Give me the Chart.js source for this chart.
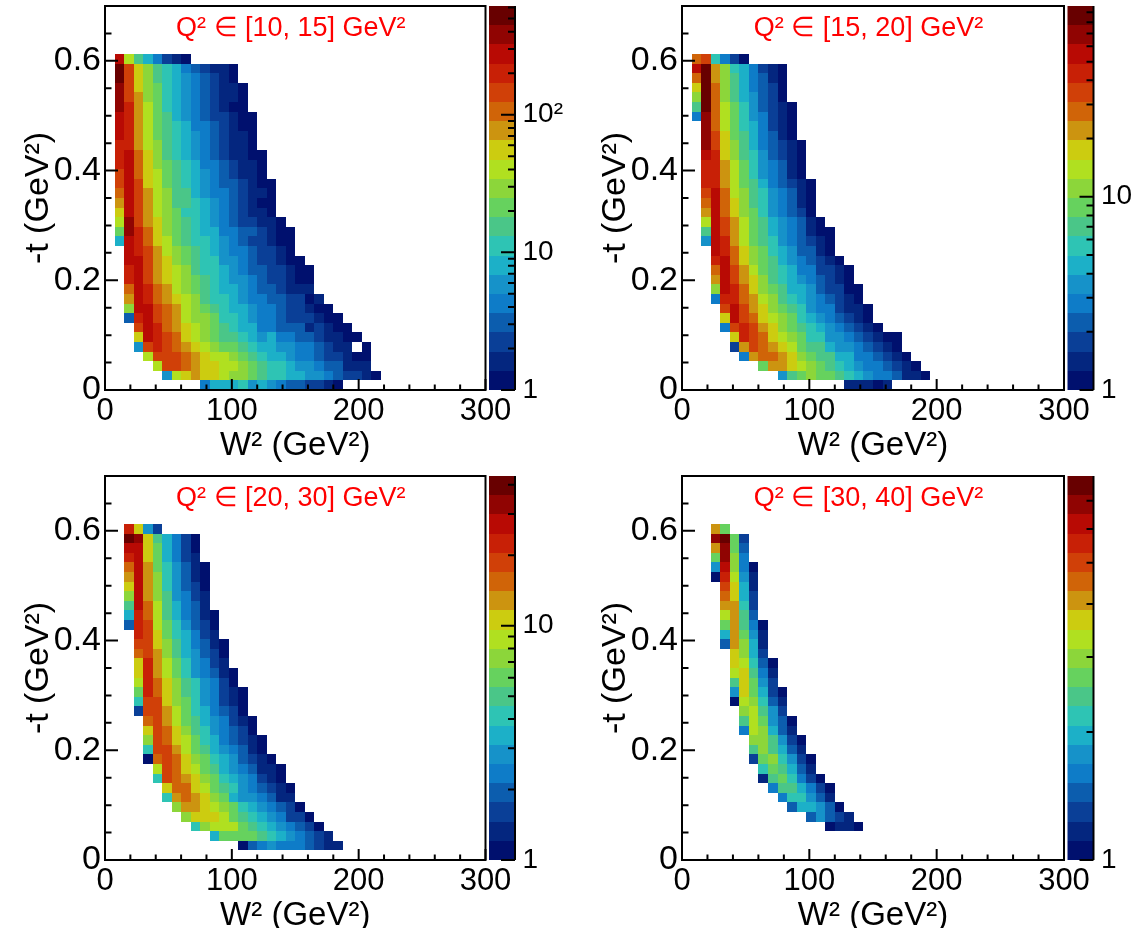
<!DOCTYPE html>
<html>
<head>
<meta charset="utf-8">
<style>
  html, body { margin: 0; background: #fff; }
  canvas { position: absolute; }
</style>
<script src="https://cdn.jsdelivr.net/npm/chart.js@4"></script>
</head>
<body>
<canvas id="c1"></canvas>
<canvas id="c2"></canvas>
<canvas id="c3"></canvas>
<canvas id="c4"></canvas>
<script>
// histogram binning, GeV^2
const wBinWidth = 7.5
const tBinWidth = 0.0175

const wTicks = [0, 20, 40, 60, 80, 100, 120, 140, 160, 180, 200, 220, 240, 260, 280, 300]
const wLabelled = [0, 100, 200, 300]
const tTicks = [0, 0.05, 0.1, 0.15, 0.2, 0.25, 0.3, 0.35, 0.4, 0.45, 0.5, 0.55, 0.6, 0.65]
const tLabelled = [0, 0.2, 0.4, 0.6]
const zLabels = { 1: '1', 10: '10', 100: '10²' }

const bandColors = ['#00106e', '#04267f', '#0a3f97', '#0c5dae', '#0e7cc8', '#1692c9', '#1cb0c8', '#2ec4b4',
  '#4ac688', '#66d25e', '#8cd63a', '#b0e020', '#cccc10', '#cc9410', '#d06408', '#d04008',
  '#c82006', '#b80a04', '#900402', '#680000']

// each row is one -t bin, lowest first; wStart is the low W^2 edge of the row's first cell
const wStart10 = [75, 45, 37.5, 30, 22.5, 22.5, 22.5, 15, 15, 15, 15, 15, 15, 15, 15,
  7.5, 7.5, 7.5, 7.5, 7.5, 7.5, 7.5, 7.5, 7.5, 7.5, 7.5, 7.5, 7.5, 7.5, 7.5, 7.5, 7.5, 7.5, 7.5, 7.5]
const counts10 = [
  [4.2,8,8,8,11,5.8,8,5.8,4.2,3.1,3.1,2.2,2.2,1.6,1.2],
  [5.8,40,55,76,55,55,40,29,29,21,15,11,11,8,8,5.8,5.8,4.2,3.1,2.2,2.2,1.6,1.2],
  [40,145,145,105,76,55,55,40,40,29,21,15,11,11,8,5.8,5.8,4.2,3.1,3.1,1.6,1.6,1.6],
  [40,145,145,145,105,76,55,40,40,29,21,15,11,8,8,5.8,4.2,4.2,3.1,2.2,2.2,1.6,1.2,1.2],
  [5.8,145,200,145,105,76,55,40,29,21,21,15,11,8,8,5.8,5.8,4.2,4.2,3.1,2.2,1.6,1.6,null,1.2],
  [55,276,200,145,105,55,40,29,21,15,15,11,8,5.8,8,4.2,4.2,3.1,3.1,2.2,1.6,1.6,1.2,1.2],
  [145,276,200,105,76,55,40,29,21,15,11,8,8,4.2,4.2,3.1,3.1,3.1,1.6,2.2,1.6,1.2,1.2],
  [3.1,200,276,145,105,76,40,29,29,21,11,11,8,5.8,4.2,4.2,3.1,2.2,2.2,2.2,1.6,1.2,1.2],
  [29,276,276,145,105,76,40,29,21,15,11,8,8,5.8,4.2,4.2,3.1,2.2,2.2,1.6,1.2,1.2],
  [76,276,200,105,76,55,40,29,15,11,11,8,5.8,4.2,4.2,3.1,3.1,2.2,2.2,1.2,1.6],
  [105,276,200,105,76,40,29,21,15,11,8,8,5.8,4.2,3.1,3.1,2.2,1.6,1.6,1.6],
  [200,276,145,76,55,40,29,21,15,11,8,5.8,5.8,4.2,3.1,2.2,2.2,1.6,1.2,1.2],
  [200,276,145,76,55,40,29,15,11,11,8,5.8,4.2,3.1,3.1,2.2,2.2,1.6,1.2,1.2],
  [276,276,145,76,55,29,21,15,11,11,5.8,5.8,4.2,3.1,2.2,2.2,1.6,1.2,1.2],
  [276,200,145,76,40,29,21,15,11,8,5.8,4.2,4.2,3.1,2.2,2.2,1.6,1.2],
  [8,276,200,105,55,40,21,15,11,11,8,5.8,4.2,3.1,2.2,2.2,1.6,1.2,1.2],
  [21,381,200,105,55,29,21,15,11,8,8,4.2,4.2,3.1,3.1,2.2,1.6,1.2,1.2],
  [40,381,145,76,55,29,21,15,11,8,5.8,4.2,3.1,2.2,2.2,1.6,1.6,1.2],
  [55,276,145,76,40,29,21,11,11,8,5.8,4.2,3.1,2.2,1.6,1.6,1.2],
  [76,276,145,76,40,29,15,15,11,8,5.8,4.2,3.1,2.2,1.6,1.2,1.2],
  [105,276,145,76,40,29,15,15,8,5.8,4.2,4.2,3.1,2.2,1.6,1.6,1.2],
  [145,276,145,55,40,21,15,11,8,5.8,4.2,3.1,3.1,2.2,1.6,1.2,1.2],
  [145,276,105,55,40,21,15,11,8,5.8,4.2,3.1,2.2,1.6,1.6,1.2],
  [200,276,105,55,29,21,15,11,8,4.2,4.2,3.1,2.2,1.6,1.6,1.2],
  [200,276,105,55,29,15,11,8,5.8,4.2,3.1,2.2,1.6,1.6,1.2,1.2],
  [200,200,76,40,29,15,11,8,5.8,4.2,3.1,2.2,1.6,1.6,1.2],
  [276,200,76,40,21,15,11,8,5.8,4.2,3.1,2.2,1.6,1.6,1.2],
  [276,200,76,40,21,15,11,8,4.2,4.2,3.1,2.2,1.6,1.2,1.2],
  [276,200,76,40,21,15,8,5.8,4.2,3.1,2.2,2.2,1.6,1.2,1.2],
  [381,200,76,40,21,11,8,5.8,4.2,3.1,2.2,1.6,1.2,1.2],
  [381,145,76,29,21,11,8,5.8,4.2,3.1,2.2,1.6,1.6,1.2],
  [381,145,55,29,21,11,8,5.8,4.2,3.1,2.2,1.6,1.6,1.2],
  [525,145,55,29,15,11,8,5.8,4.2,3.1,2.2,1.6,1.2],
  [525,145,55,29,15,11,8,4.2,3.1,2.2,1.6,1.6,1.2],
  [276,40,15,8,4.2,2.2,1.6,1.2]
]

const wStart15 = [127.5, 75, 60, 45, 37.5, 37.5, 30, 30, 30, 22.5, 22.5, 22.5, 22.5, 22.5, 22.5,
  15, 15, 15, 15, 15, 15, 15, 15, 15, 15, 15, 15, 15, 7.5, 7.5, 7.5, 7.5, 7.5, 7.5, 7.5]
const counts15 = [
  [1.4,1.4,1.4,1.1,1.4],
  [3.5,7,8.8,11,8.8,8.8,7,5.6,4.4,3.5,2.8,2.8,2.2,1.4,1.4,1.1],
  [8.8,22,22,17.5,14,11,8.8,7,5.6,4.4,3.5,2.8,2.8,2.2,1.8,1.4,1.1],
  [2.8,22,28,28,22,17.5,11,8.8,7,7,4.4,4.4,2.8,2.8,2.2,1.8,1.4,1.1],
  [1.8,22,35,28,22,17.5,14,8.8,7,7,4.4,3.5,3.5,2.8,2.2,1.8,1.4,1.1],
  [17.5,44,35,28,17.5,14,11,8.8,5.6,5.6,3.5,3.5,2.8,2.2,1.8,1.4,1.1,1.1],
  [2.8,35,44,35,22,17.5,11,8.8,7,5.6,4.4,3.5,2.8,2.2,1.8,1.4,1.1],
  [17.5,55,35,28,17.5,14,11,8.8,5.6,4.4,3.5,2.8,2.2,1.8,1.4,1.1],
  [35,55,35,22,17.5,11,8.8,7,5.6,3.5,2.8,2.8,1.8,1.4,1.4,1.1],
  [2.8,44,44,28,22,14,11,7,5.6,4.4,3.5,2.8,2.2,1.8,1.4,1.1],
  [11,55,44,28,17.5,11,8.8,7,4.4,4.4,3.5,2.2,1.8,1.8,1.1,1.1],
  [22,55,35,22,17.5,11,7,5.6,4.4,3.5,2.8,2.2,1.8,1.4,1.1],
  [28,55,35,22,14,8.8,7,5.6,4.4,2.8,2.8,1.8,1.8,1.4,1.1],
  [44,55,28,17.5,11,8.8,7,4.4,3.5,2.8,2.2,1.8,1.4,1.1],
  [55,44,28,17.5,11,8.8,5.6,4.4,3.5,2.2,2.2,1.4,1.1],
  [3.5,55,44,22,14,8.8,7,5.6,3.5,2.8,2.2,1.8,1.4,1.1],
  [7,55,35,22,14,8.8,7,4.4,3.5,2.8,2.2,1.4,1.1,1.1],
  [14,55,35,22,14,8.8,7,4.4,3.5,2.8,2.2,1.4,1.1],
  [22,55,28,17.5,11,8.8,5.6,3.5,2.8,2.2,1.8,1.1],
  [28,55,28,17.5,11,7,5.6,3.5,2.8,2.2,1.4,1.1],
  [35,55,28,14,11,7,5.6,3.5,2.8,2.2,1.4,1.1],
  [44,44,22,14,8.8,7,4.4,2.8,2.2,1.8,1.4,1.1],
  [44,44,22,14,8.8,5.6,3.5,2.8,2.2,1.4,1.1],
  [44,44,22,14,8.8,5.6,3.5,2.8,2.2,1.4,1.1],
  [55,44,17.5,11,7,5.6,3.5,2.2,1.8,1.4,1.1],
  [69,35,17.5,11,7,4.4,2.8,2.2,1.8,1.4,1.1],
  [69,35,17.5,8.8,7,4.4,2.8,2.2,1.4,1.1],
  [69,28,14,8.8,5.6,4.4,2.8,1.8,1.4,1.1],
  [2.8,69,28,14,8.8,5.6,3.5,2.8,1.8,1.4,1.1],
  [7,87,28,14,8.8,5.6,3.5,2.2,1.8,1.4,1.1],
  [11,87,28,11,7,4.4,3.5,2.2,1.8,1.1],
  [17.5,87,28,11,7,4.4,2.8,2.2,1.8,1.1],
  [28,87,22,11,7,4.4,2.8,2.2,1.4,1.1],
  [55,87,22,11,5.6,4.4,2.8,1.8,1.4,1.1],
  [28,35,5.6,2.8,1.8,1.1]
]

const wStart20 = [0, 105, 82.5, 67.5, 60, 52.5, 45, 45, 37.5, 37.5, 30, 30, 30, 30, 30,
  22.5, 22.5, 22.5, 22.5, 22.5, 22.5, 22.5, 22.5, 22.5, 15, 15, 15, 15, 15, 15, 15, 15, 15, 15, 15]
const counts20 = [
  [],
  [1.1,1.9,2.3,2.8,2.3,2.3,2.3,1.9,1.6,1.3,1.3],
  [3.4,6,6,6,6,5,4.1,3.4,2.8,2.3,1.9,1.6,1.3],
  [4.1,7.3,8.8,8.8,8.8,6,5,4.1,3.4,2.8,2.3,1.9,1.6,1.1],
  [7.3,10.6,10.6,10.6,8.8,6,5,4.1,3.4,2.8,2.3,1.6,1.6,1.1],
  [7.3,12.8,12.8,10.6,8.8,7.3,6,4.1,3.4,2.8,2.3,1.9,1.6,1.1],
  [4.1,12.8,15.5,12.8,10.6,7.3,6,3.4,2.8,2.8,2.3,1.9,1.3,1.3],
  [10.6,15.5,15.5,10.6,8.8,6,5,4.1,2.8,2.3,1.9,1.6,1.3,1.1],
  [4.1,18.7,15.5,12.8,10.6,7.3,6,4.1,3.4,2.8,2.3,1.6,1.3,1.1],
  [8.8,18.7,15.5,10.6,8.8,6,5,3.4,2.8,2.3,1.9,1.3,1.3,1.1],
  [1.1,15.5,18.7,15.5,10.6,7.3,6,4.1,3.4,2.8,1.9,1.6,1.3,1.1],
  [4.1,18.7,18.7,12.8,8.8,6,5,3.4,2.8,2.3,1.9,1.3,1.1],
  [7.3,18.7,15.5,10.6,8.8,6,4.1,3.4,2.3,1.9,1.6,1.3,1.1],
  [10.6,18.7,15.5,10.6,7.3,5,4.1,2.8,2.3,1.9,1.6,1.1],
  [15.5,18.7,12.8,8.8,6,5,3.4,2.8,2.3,1.6,1.3,1.1],
  [1.6,18.7,18.7,12.8,8.8,6,4.1,3.4,2.3,1.9,1.6,1.1],
  [4.1,18.7,18.7,10.6,7.3,6,4.1,2.8,2.3,1.6,1.3,1.1],
  [6,22.5,15.5,10.6,7.3,5,4.1,2.8,2.3,1.6,1.3,1.1],
  [8.8,22.5,15.5,10.6,7.3,5,4.1,2.8,2.3,1.6,1.1],
  [10.6,22.5,12.8,8.8,6,4.1,2.8,2.3,1.9,1.3,1.1],
  [10.6,22.5,12.8,8.8,6,4.1,2.8,2.3,1.6,1.3],
  [15.5,18.7,12.8,7.3,5,3.4,2.8,1.9,1.6,1.1],
  [18.7,18.7,10.6,7.3,5,3.4,2.3,1.9,1.3,1.1],
  [22.5,18.7,10.6,6,4.1,3.4,2.3,1.6,1.3],
  [1.9,22.5,18.7,8.8,6,4.1,2.8,1.9,1.6,1.1],
  [3.4,22.5,15.5,8.8,5,3.4,2.3,1.9,1.3,1.1],
  [5,27,15.5,8.8,5,3.4,2.3,1.9,1.3],
  [7.3,27,12.8,7.3,5,2.8,2.3,1.6,1.3],
  [10.6,27,12.8,7.3,4.1,2.8,1.9,1.6,1.1],
  [12.8,27,12.8,7.3,4.1,2.8,1.9,1.3,1.1],
  [15.5,27,12.8,6,4.1,2.8,1.9,1.3,1.1],
  [22.5,27,10.6,6,3.4,2.3,1.6,1.3],
  [27,27,10.6,6,3.4,2.3,1.6,1.1],
  [40,33,10.6,5,3.4,2.3,1.6,1.1],
  [22.5,10.6,2.8,1.6]
]

const wStart30 = [0, 0, 0, 112.5, 97.5, 82.5, 75, 67.5, 60, 60, 52.5, 52.5, 52.5, 45, 45, 45,
  37.5, 37.5, 37.5, 37.5, 37.5, 37.5, 30, 30, 30, 30, 30, 30, 30, 22.5, 22.5, 22.5, 22.5, 22.5, 22.5]
const counts30 = [
  [],
  [],
  [],
  [1.05,1.17,1.17,1.05],
  [1.44,1.77,1.44,1.3,1.17],
  [1.44,1.96,1.96,1.77,1.44,1.05],
  [1.6,2.18,2.18,1.77,1.44,1.17],
  [1.6,2.42,2.42,1.96,1.6,1.3,1.05],
  [1.17,2.42,2.69,2.18,1.6,1.3,1.05],
  [2.18,2.69,2.42,1.96,1.44,1.17],
  [1.3,2.69,2.98,2.18,1.77,1.3,1.05],
  [2.42,2.98,2.42,1.96,1.44,1.17],
  [2.98,2.98,2.42,1.77,1.3,1.05],
  [1.6,3.31,2.98,1.96,1.44,1.17],
  [2.42,3.31,2.69,1.77,1.44,1.05],
  [2.98,3.31,2.42,1.77,1.3],
  [1.05,3.31,2.98,2.18,1.44,1.17],
  [1.77,3.67,2.69,1.96,1.3,1.05],
  [2.42,3.67,2.69,1.77,1.3],
  [3.31,3.67,2.42,1.6,1.17],
  [3.67,3.31,2.18,1.44,1.05],
  [3.67,2.98,1.96,1.3],
  [1.44,4.07,2.98,1.96,1.17],
  [1.96,4.07,2.69,1.77,1.17],
  [2.69,4.07,2.42,1.6,1.05],
  [3.31,4.07,2.42,1.44],
  [4.07,4.07,2.18,1.3],
  [4.51,3.67,1.96,1.3],
  [5.01,3.67,1.96,1.17],
  [1.05,5.56,3.31,1.77,1.17],
  [1.77,6.17,2.98,1.6,1.05],
  [2.69,6.84,2.98,1.6],
  [4.07,6.84,2.69,1.44],
  [6.84,7.59,2.69,1.3],
  [4.07,2.69]
]

const zTicks10 = [1, 2, 3, 4, 5, 6, 7, 8, 9, 10, 20, 30, 40, 50, 60, 70, 80, 90, 100, 200, 300, 400, 500, 600]
const zTicks15 = [1, 2, 3, 4, 5, 6, 7, 8, 9, 10, 20, 30, 40, 50, 60, 70, 80, 90]
const zTicks20 = [1, 2, 3, 4, 5, 6, 7, 8, 9, 10, 20, 30, 40]
const zTicks30 = [1, 2, 3, 4, 5, 6, 7]

const panels = [
  { id: 'c1', title: 'Q² ∈ [10, 15] GeV²', starts: wStart10, rows: counts10, zMax: 616, zTicks: zTicks10, left: 0, top: 0, width: 570, plotW: 380.5 },
  { id: 'c2', title: 'Q² ∈ [15, 20] GeV²', starts: wStart15, rows: counts15, zMax: 97, zTicks: zTicks15, left: 577, top: 0, width: 557, plotW: 382 },
  { id: 'c3', title: 'Q² ∈ [20, 30] GeV²', starts: wStart20, rows: counts20, zMax: 43.6, zTicks: zTicks20, left: 0, top: 470, width: 570, plotW: 380.5 },
  { id: 'c4', title: 'Q² ∈ [30, 40] GeV²', starts: wStart30, rows: counts30, zMax: 8, zTicks: zTicks30, left: 577, top: 470, width: 557, plotW: 382 }
]

Chart.defaults.font.family = '"Liberation Sans", Arial, sans-serif'
Chart.defaults.color = '#000'

function bandOf(scale, v) {
  const dec = scale.getDecimalForPixel(scale.getPixelForValue(v))
  return Math.min(bandColors.length - 1, Math.floor(dec * bandColors.length))
}

function noPadding(s) {
  s.paddingTop = s.paddingBottom = s.paddingLeft = s.paddingRight = 0
}

// the library has no 2D histogram type, so the cells, palette and ROOT style inward ticks go here
const heatPlugin = {
  id: 'heat',
  afterDatasetsDraw(chart, args, opts) {
    const { ctx, chartArea: area, scales: { x, y, z } } = chart
    ctx.save()
    chart.data.datasets[0].data.forEach(c => {
      const x0 = Math.round(x.getPixelForValue(c.x - wBinWidth / 2))
      const x1 = Math.round(x.getPixelForValue(c.x + wBinWidth / 2))
      const y0 = Math.round(y.getPixelForValue(c.y + tBinWidth / 2))
      const y1 = Math.round(y.getPixelForValue(c.y - tBinWidth / 2))
      ctx.fillStyle = bandColors[bandOf(z, c.v)]
      ctx.fillRect(x0, y0, x1 - x0, y1 - y0)
    })

    // palette
    const barL = z.left + 3.5
    const barR = z.left + 29.5
    bandColors.forEach((col, i) => {
      const y0 = Math.round(z.getPixelForDecimal((i + 1) / bandColors.length))
      const y1 = Math.round(z.getPixelForDecimal(i / bandColors.length))
      ctx.fillStyle = col
      ctx.fillRect(barL, y0, barR - barL, y1 - y0)
    })

    ctx.strokeStyle = '#000'
    ctx.lineWidth = 2
    ctx.beginPath()
    x.ticks.forEach(t => {
      const px = x.getPixelForValue(t.value)
      ctx.moveTo(px, area.bottom)
      ctx.lineTo(px, area.bottom - (wLabelled.includes(t.value) ? 11 : 5.5))
    })
    y.ticks.forEach(t => {
      const py = y.getPixelForValue(t.value)
      ctx.moveTo(area.left, py)
      ctx.lineTo(area.left + (tLabelled.includes(t.value) ? 13 : 6.5), py)
    })
    z.ticks.forEach(t => {
      const py = z.getPixelForValue(t.value)
      ctx.moveTo(barR, py)
      ctx.lineTo(barR - (zLabels[t.value] ? 14 : 7), py)
    })
    ctx.moveTo(barR, area.top)
    ctx.lineTo(barR, area.bottom)
    ctx.stroke()
    ctx.strokeRect(area.left, area.top, area.right - area.left, area.bottom - area.top)

    ctx.fillStyle = '#ff0000'
    ctx.font = '27px "Liberation Sans", Arial, sans-serif'
    ctx.textAlign = 'center'
    ctx.textBaseline = 'middle'
    ctx.fillText(opts.text, x.getPixelForValue(146.5), area.top + 23)
    ctx.restore()
  }
}

panels.forEach(p => {
  const canvas = document.getElementById(p.id)
  canvas.width = p.width
  canvas.height = 466
  canvas.style.left = p.left + 'px'
  canvas.style.top = p.top + 'px'

  const cells = []
  p.rows.forEach((row, j) => {
    row.forEach((v, i) => {
      if (v !== null) cells.push({ x: p.starts[j] + (i + 0.5) * wBinWidth, y: (j + 0.5) * tBinWidth, v })
    })
  })

  new Chart(canvas, {
    type: 'scatter',
    data: { datasets: [{ data: cells, pointRadius: 0, pointHoverRadius: 0 }] },
    plugins: [heatPlugin],
    options: {
      responsive: false,
      animation: false,
      events: [],
      layout: { padding: { top: 6 } },
      plugins: {
        legend: { display: false },
        tooltip: { enabled: false },
        heat: { text: p.title }
      },
      scales: {
        x: {
          type: 'linear',
          min: 0,
          max: 300,
          grid: { display: false, drawTicks: false },
          border: { display: false },
          afterBuildTicks: s => { s.ticks = wTicks.map(value => ({ value })) },
          afterFit: s => { s.height = 76; noPadding(s) },
          ticks: {
            autoSkip: false,
            maxRotation: 0,
            padding: 3,
            font: { size: 31 },
            callback: v => wLabelled.includes(v) ? String(v) : ''
          },
          title: { display: true, text: 'W² (GeV²)', font: { size: 33 }, padding: { top: 0, bottom: 0 } }
        },
        y: {
          type: 'linear',
          min: 0,
          max: 0.7,
          grid: { display: false, drawTicks: false },
          border: { display: false },
          afterBuildTicks: s => { s.ticks = tTicks.map(value => ({ value })) },
          afterFit: s => { s.width = 105; noPadding(s) },
          ticks: {
            autoSkip: false,
            padding: 4,
            font: { size: 34 },
            callback: v => tLabelled.includes(v) ? String(v) : ''
          },
          title: { display: true, text: '-t (GeV²)', font: { size: 34 }, padding: { top: 18, bottom: 0 } }
        },
        z: {
          type: 'logarithmic',
          axis: 'y',
          position: 'right',
          min: 1,
          max: p.zMax,
          grid: { display: false, drawTicks: true, tickLength: 37 },
          border: { display: false },
          afterBuildTicks: s => { s.ticks = p.zTicks.map(value => ({ value })) },
          afterFit: s => { s.width = p.width - 105 - p.plotW; noPadding(s) },
          ticks: {
            autoSkip: false,
            padding: 0,
            font: { size: 28 },
            callback: v => zLabels[v] || ''
          }
        }
      }
    }
  })
})
</script>
</body>
</html>
